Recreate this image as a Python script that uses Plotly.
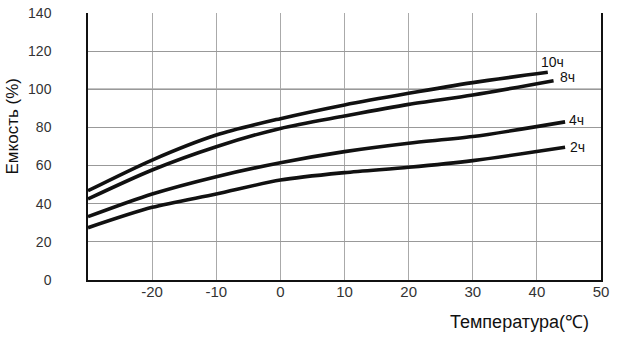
import plotly.graph_objects as go

# Temperature (°C) sample points and capacity (%) for each discharge rate
x_10h = [-30, -20, -10, 0, 10, 20, 30, 41.7]
y_10h = [46.8, 62.9, 76.0, 84.6, 91.8, 97.9, 103.5, 108.9]
x_8h = [-30, -20, -10, 0, 10, 20, 30, 42.6]
y_8h = [42.5, 57.7, 69.9, 79.5, 86.0, 92.1, 97.0, 104.5]
x_4h = [-30, -20, -10, 0, 10, 20, 30, 44.4]
y_4h = [33.2, 45.1, 54.2, 61.5, 67.3, 71.7, 75.2, 82.9]
x_2h = [-30, -20, -10, 0, 10, 20, 30, 44.4]
y_2h = [27.4, 38.1, 45.1, 52.4, 56.3, 59.1, 62.6, 69.6]

series_names = ["10ч", "8ч", "4ч", "2ч"]
x_ticks = [-20, -10, 0, 10, 20, 30, 40, 50]
x_tick_labels = ["-20", "-10", "0", "10", "20", "30", "40", "50"]
y_ticks = [0, 20, 40, 60, 80, 100, 120, 140]
y_tick_labels = ["0", "20", "40", "60", "80", "100", "120", "140"]

FONT = "Liberation Sans, Arial"

fig = go.Figure()
for xs, ys, name in [(x_10h, y_10h, "10ч"), (x_8h, y_8h, "8ч"), (x_4h, y_4h, "4ч"), (x_2h, y_2h, "2ч")]:
    fig.add_trace(go.Scatter(x=xs, y=ys, mode="lines", name=name,
                             line=dict(color="#111111", width=3.6, shape="spline", smoothing=0.8),
                             showlegend=False))

# Curve labels
label_pos = {"10ч": (42.5, 114.3), "8ч": (44.7, 106.5), "4ч": (46.2, 83.9), "2ч": (46.3, 69.7)}
for name in series_names:
    lx, ly = label_pos[name]
    fig.add_annotation(x=lx, y=ly, text=name, showarrow=False,
                       font=dict(family=FONT, size=14, color="#111"),
                       xanchor="center", yanchor="middle")

# Dark reference line at 100%
fig.add_shape(type="line", xref="paper", x0=0, x1=1, yref="y", y0=100, y1=100,
              line=dict(color="#111", width=1.2), layer="below")

fig.add_annotation(xref="paper", yref="paper", x=0, y=0.575, xshift=-76,
                   text="Емкость (%)", textangle=-90, showarrow=False,
                   font=dict(family=FONT, size=17, color="#111"),
                   xanchor="center", yanchor="middle")
fig.add_annotation(xref="paper", yref="paper", x=0.841, y=-0.157,
                   text="Температура(℃)", showarrow=False,
                   font=dict(family=FONT, size=18, color="#111"),
                   xanchor="center", yanchor="middle")

fig.update_layout(
    width=627, height=339,
    margin=dict(l=88, r=26, t=13, b=59, pad=0),
    plot_bgcolor="white", paper_bgcolor="white",
    xaxis=dict(range=[-30, 50], tickvals=x_ticks, ticktext=x_tick_labels, automargin=False,
               showgrid=True, gridcolor="#aaaaaa", gridwidth=1,
               showline=True, linecolor="#111", linewidth=1.5, zeroline=False, ticks="",
               ticklabelstandoff=-3,
               tickfont=dict(family=FONT, size=15, color="#333")),
    yaxis=dict(range=[0, 140], tickvals=y_ticks, ticktext=y_tick_labels, automargin=False,
               showgrid=True, gridcolor="#999999", gridwidth=1,
               showline=True, mirror=True, linecolor="#111", linewidth=1.5, zeroline=False, ticks="",
               ticklabelstandoff=32,
               tickfont=dict(family=FONT, size=14, color="#333")),
)

fig.write_html("out.html")
